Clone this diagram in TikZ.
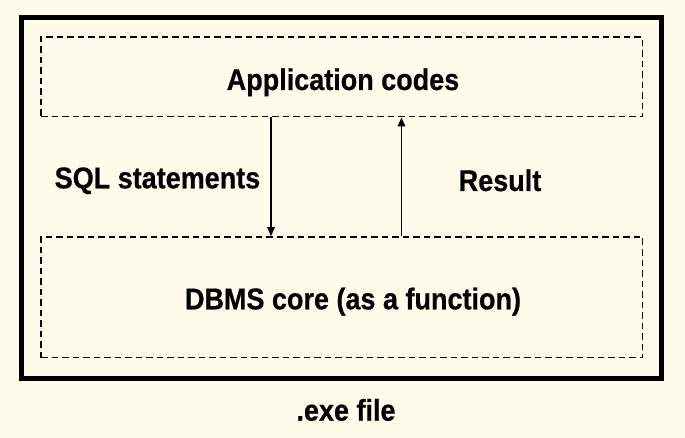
\documentclass[tikz,border=0pt]{standalone}
\usepackage{fontspec}
\newfontfamily\lab{Liberation Sans}[FakeStretch=0.9, FakeBold=0.6]
\usetikzlibrary{arrows.meta}
\definecolor{bgcream}{RGB}{255,252,236}
\tikzset{
  frame/.style={draw=black, line width=5pt, inner sep=0pt},
  dbox/.style={draw=black, line width=1.6pt, dash pattern=on 6.5pt off 4pt, inner sep=0pt},
  lbl/.style={font=\lab\fontsize{30}{36}\selectfont\bfseries, text=black, inner sep=0pt, anchor=base},
  arr/.style={-{Triangle[length=9pt,width=7.5pt]}, draw=black}
}
\begin{document}
\begin{tikzpicture}[x=1pt,y=-1pt]
\fill[bgcream] (0,0) rectangle (685,438);
\useasboundingbox (0,0) rectangle (685,438);
\node[frame, minimum width=640.5pt, minimum height=360.5pt] (outer) at (341.25,197.75) {};
\node[dbox, minimum width=601.5pt, minimum height=79.4pt] (app) at (341.75,77) {};
\node[dbox, minimum width=601.5pt, minimum height=120.5pt] (dbms) at (341.75,297.25) {};
\node[lbl] (apptxt) at (343,90) {Application codes};
\node[lbl] (sqltxt) at (157.5,188.3) {SQL statements};
\node[lbl] (restxt) at (500,191) {Result};
\node[lbl] (dbmstxt) at (353,309.3) {DBMS core (as a function)};
\node[lbl] (exetxt) at (346,420.7) {.exe file};
\coordinate (xd) at (271,0);
\coordinate (xu) at (401.5,0);
\draw[arr, line width=1.1pt] (app.south -| xd) -- (dbms.north -| xd);
\draw[arr, line width=1.9pt] (dbms.north -| xu) -- (app.south -| xu);
\end{tikzpicture}
\end{document}
